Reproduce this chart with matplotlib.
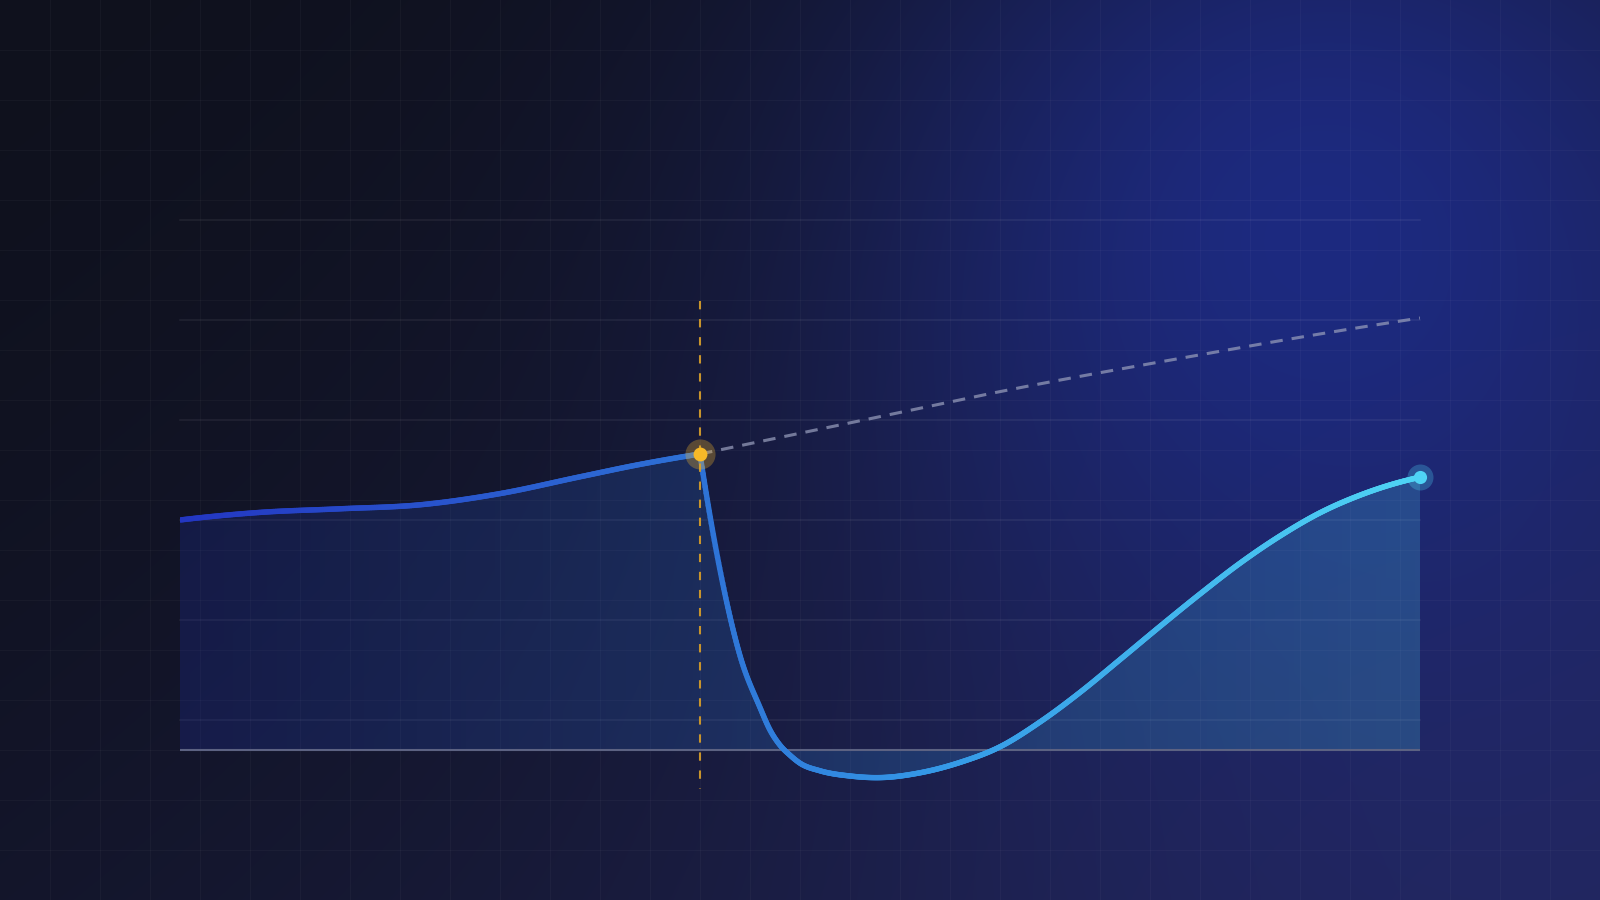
import numpy as np
import matplotlib.pyplot as plt
from matplotlib.collections import LineCollection
from matplotlib.colors import LinearSegmentedColormap

plt.rcParams['lines.scale_dashes'] = False

# series before the event (days, index value)
days_pre = [0, 8, 16, 24, 32, 40, 46, 52]
vals_pre = [57.5, 59.4, 60.3, 61.3, 64.1, 68.3, 71.4, 74.0]

# series after the event
days_post = [52, 54, 56, 58, 59, 60, 61, 62, 64, 67, 70, 74, 78, 82, 86, 90, 94, 98, 102, 106,
             110, 114, 118, 124]
vals_post = [74.0, 45.0, 23.6, 10.6, 5.0, 1.2, -1.3, -3.3, -5.2, -6.5, -6.9, -5.7, -3.1, 0.8,
             7.0, 14.4, 22.6, 30.9, 39.0, 46.7, 53.5, 59.3, 63.7, 68.2]

# projected trend had nothing happened
proj_days = [52, 68, 82, 102, 113, 124]
proj_vals = [74.0, 82.3, 89.6, 98.8, 103.6, 108.0]

event_day = days_pre[-1]
event_val = vals_pre[-1]


def smooth(x, y, xs):
    """cubic hermite through the points, slopes from neighbouring points"""
    x = np.asarray(x, float)
    y = np.asarray(y, float)
    h = np.diff(x)
    d = np.diff(y) / h
    n = len(x)
    m = np.zeros(n)
    m[1:-1] = (d[:-1] * h[1:] + d[1:] * h[:-1]) / (h[:-1] + h[1:])
    m[0] = ((2 * h[0] + h[1]) * d[0] - h[0] * d[1]) / (h[0] + h[1])
    m[-1] = ((2 * h[-1] + h[-2]) * d[-1] - h[-1] * d[-2]) / (h[-1] + h[-2])
    idx = np.clip(np.searchsorted(x, xs) - 1, 0, n - 2)
    t = (xs - x[idx]) / h[idx]
    h00 = 2 * t**3 - 3 * t**2 + 1
    h10 = t**3 - 2 * t**2 + t
    h01 = -2 * t**3 + 3 * t**2
    h11 = t**3 - t**2
    return h00 * y[idx] + h10 * h[idx] * m[idx] + h01 * y[idx + 1] + h11 * h[idx] * m[idx + 1]


fig = plt.figure(figsize=(16, 9), dpi=100)

# background: dark with blue glow
bg = fig.add_axes([0, 0, 1, 1])
bg.axis('off')
yy, xx = np.mgrid[0:900, 0:1600]
base_tl = np.array([15, 17, 29]) / 255
base_br = np.array([30, 33, 78]) / 255
c_br = np.array([34, 38, 94]) / 255
c_glow = np.array([29, 42, 128]) / 255
lin = np.clip((xx / 1600 * 0.55 + yy / 900 * 0.45), 0, 1)[..., None] ** 1.6
img = base_tl * (1 - lin) + base_br * lin
w2 = np.exp(-((xx - 1600)**2 + (yy - 900)**2) / 700**2)[..., None]
w1 = np.exp(-((xx - 1320)**2 + (yy - 240)**2) / 450**2)[..., None]
img = img * (1 - w2) + c_br * w2
img = img * (1 - w1) + c_glow * w1
bg.imshow(img, extent=(0, 1600, 900, 0), aspect='auto')
for gx in range(50, 1600, 50):
    bg.axvline(gx, color='white', alpha=0.03, lw=0.8)
for gy in range(50, 900, 50):
    bg.axhline(gy, color='white', alpha=0.03, lw=0.8)
bg.set_xlim(0, 1600)
bg.set_ylim(900, 0)

ax = fig.add_axes([180 / 1600, 80 / 900, 1240 / 1600, 600 / 900])
ax.axis('off')
y0, y1 = -17.5, 132.5

# horizontal guides
for k in range(1, 7):
    ax.axhline(y0 + k * (y1 - y0) / 6, color='white', alpha=0.07, lw=1.1, clip_on=False, zorder=1)

xs_pre = np.linspace(days_pre[0], days_pre[-1], 300)
xs_post = np.linspace(days_post[0], days_post[-1], 700)
xs = np.concatenate([xs_pre, xs_post[1:]])
ys = np.concatenate([smooth(days_pre, vals_pre, xs_pre), smooth(days_post, vals_post, xs_post)[1:]])

cmap = LinearSegmentedColormap.from_list('line', [(0, '#2336c2'), (0.42, '#2e72d6'),
                                                  (0.6, '#3497e6'), (1, '#4fd4f4')])

# gradient area under the line
poly = ax.fill_between(xs, ys, 0, facecolor='none', edgecolor='none')
grad = cmap(np.linspace(0, 1, 256).reshape(1, -1))
grad[..., 3] = 0.21
im = ax.imshow(grad, extent=(0, 124, y0, y1), aspect='auto', zorder=2)
im.set_clip_path(poly.get_paths()[0], transform=ax.transData)

ax.axhline(0, color='#5c6282', lw=1.5, zorder=3)

# projected trend
xs_proj = np.linspace(proj_days[0], proj_days[-1], 300)
ax.plot(xs_proj, smooth(proj_days, proj_vals, xs_proj), color='#9399b8', alpha=0.75, lw=2.2,
        linestyle=(0, (9, 6.5)), zorder=4)

# main line with colour gradient
pts = np.column_stack([xs, ys])
segs = np.stack([pts[:-1], pts[1:]], axis=1)
lc = LineCollection(segs, colors=cmap(xs[:-1] / 124), linewidths=3.9, capstyle='round',
                    joinstyle='round', zorder=5)
ax.add_collection(lc)

# event marker
ax.plot([event_day, event_day], [112.25, -9.75], color='#c8942c', lw=1.5,
        linestyle=(0, (6, 7)), zorder=6, clip_on=False)
ax.scatter([event_day], [event_val], s=470, color='#f5b82a', alpha=0.3, lw=0, zorder=7)
ax.scatter([event_day], [event_val], s=100, color='#f7b928', lw=0, zorder=8)

ax.scatter([days_post[-1]], [vals_post[-1]], s=350, color='#4fd3f5', alpha=0.28, lw=0, zorder=7,
           clip_on=False)
ax.scatter([days_post[-1]], [vals_post[-1]], s=90, color='#4fd3f5', lw=0, zorder=8, clip_on=False)

ax.set_xlim(0, 124)
ax.set_ylim(y0, y1)

fig.savefig('out.png', dpi=100)
